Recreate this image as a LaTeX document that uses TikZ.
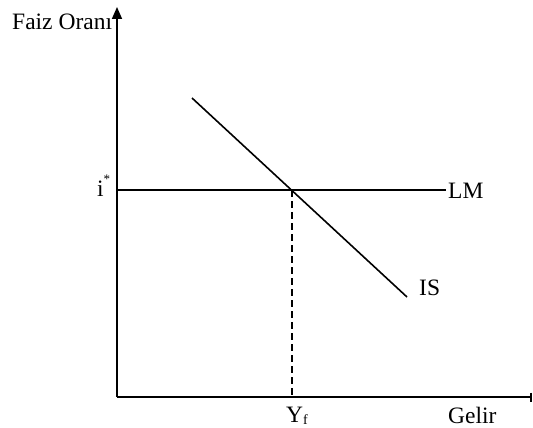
\documentclass[tikz,border=0pt]{standalone}
\usepackage{fontspec}
\setmainfont{Liberation Serif}
\usetikzlibrary{arrows.meta}
\begin{document}
\begin{tikzpicture}[x=1pt,y=-1pt,
  curve/.style={line width=1.6pt},
  lbl/.style={inner sep=0pt,font=\fontsize{23.5}{25}\selectfont}]
\useasboundingbox (0,0) rectangle (533,428);
\coordinate (O) at (117,397);
\coordinate (ytop) at (117,7);
\coordinate (xend) at (532,397);
\coordinate (lmL) at (117,190);
\coordinate (lmR) at (446,190);
\coordinate (isA) at (192,98);
\coordinate (isB) at (407,297);
\coordinate (E) at (292,190);
\coordinate (Ef) at (292,397);
\draw[curve,-{Triangle[length=12pt,width=10pt]}] (O) -- (ytop);
\draw[curve,-{Bar[width=9pt]}] (O) -- (xend);
\draw[curve] (lmL) -- (lmR);
\draw[curve] (isA) -- (isB);
\draw[curve,dash pattern=on 7pt off 4pt] (E) -- (Ef);
\node[lbl,anchor=base west] (faiz) at (12,30) {Faiz Oranı};
\node[lbl,anchor=base west] (istar) at (97,196) {i\raisebox{0.55em}{\fontsize{13}{13}\selectfont *}};
\node[lbl,anchor=base west] (lm) at (448,198) {LM};
\node[lbl,anchor=base west] (is) at (419,295) {IS};
\node[lbl,anchor=base west] (yf) at (286,422) {Y\raisebox{-2pt}{\fontsize{14}{14}\selectfont f}};
\node[lbl,anchor=base west] (gelir) at (448,423) {Gelir};
\end{tikzpicture}
\end{document}
